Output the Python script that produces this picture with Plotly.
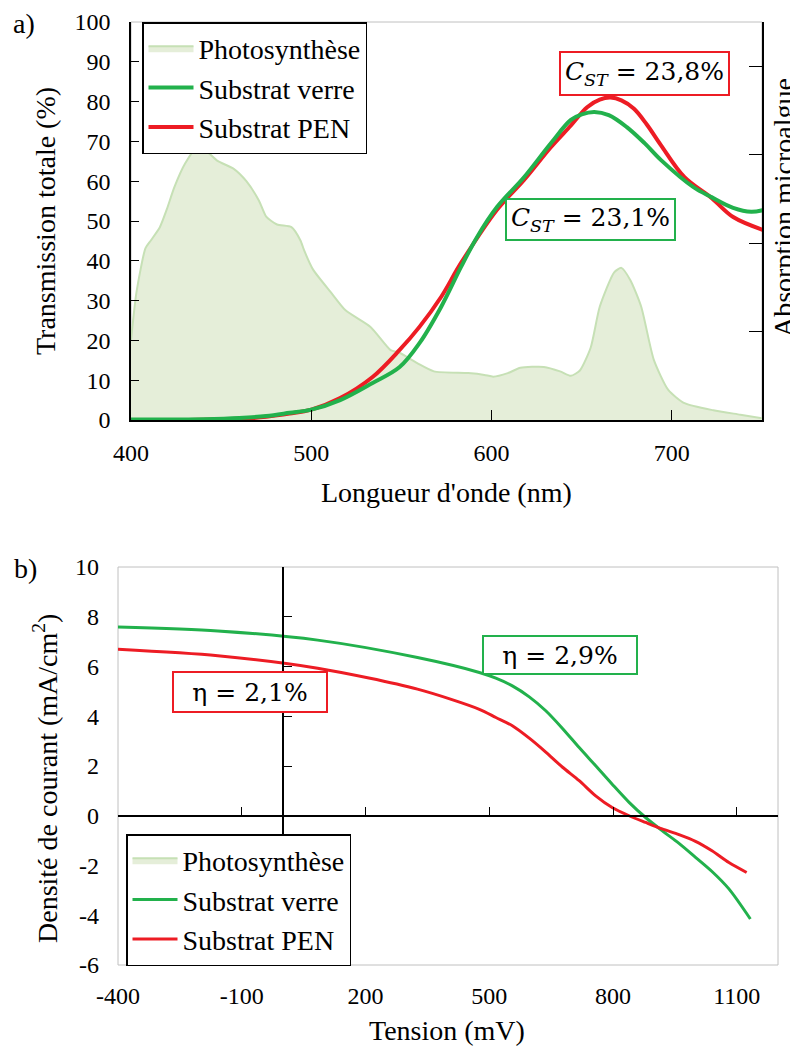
import plotly.graph_objects as go

# photosynthesis action spectrum (absorption, arbitrary units)
wl_photo = [400, 403, 408, 411, 416, 420, 424, 430, 437, 443, 448, 457, 464, 471, 475, 481,
            489, 494, 496, 501, 511, 519, 533, 544, 549, 559, 568, 587, 596, 601, 609, 616,
            629, 638, 644, 649, 655, 660, 668, 672, 677, 683, 690, 698, 707, 723, 738, 750]
abs_photo = [0.090, 0.144, 0.194, 0.203, 0.218, 0.239, 0.263, 0.290, 0.309, 0.302, 0.293, 0.284,
             0.270, 0.248, 0.230, 0.221, 0.218, 0.203, 0.192, 0.170, 0.144, 0.124, 0.105, 0.079,
             0.076, 0.064, 0.055, 0.053, 0.051, 0.049, 0.053, 0.059, 0.060, 0.055, 0.050, 0.056,
             0.082, 0.128, 0.167, 0.172, 0.158, 0.128, 0.068, 0.034, 0.019, 0.011, 0.006, 0.002]

# total transmission (%)
wl_verre = [400, 420, 440, 460, 475, 488, 500, 516, 534, 549, 560, 572, 583, 592, 603, 618,
            633, 644, 650, 657, 665, 675, 685, 694, 712, 722, 734, 744, 751]
t_verre = [0.1, 0.1, 0.2, 0.5, 1.0, 1.8, 2.6, 5.0, 9.3, 13.3, 19.3, 28.4, 38.4, 46.0, 53.5, 61.0,
           69.6, 75.4, 76.8, 77.4, 76.6, 73.6, 69.5, 65.3, 58.5, 56.0, 53.3, 52.3, 52.8]
wl_pen = [400, 440, 460, 475, 488, 500, 516, 534, 549, 560, 572, 583, 603, 618, 633, 644,
          653, 660, 666, 672, 679, 686, 694, 707, 722, 734, 751]
t_pen = [0.0, 0.05, 0.3, 0.8, 1.6, 2.6, 5.5, 10.8, 17.6, 23.4, 30.9, 39.4, 52.8, 60.3, 68.6, 74.0,
         78.6, 80.5, 81.0, 80.3, 78.2, 74.3, 69.0, 61.0, 55.8, 51.0, 47.7]

# J-V curves (mV, mA/cm2)
v_verre = [-400, -158, 84, 326, 476, 516, 556, 597, 637, 677, 718, 758, 798, 839, 879, 919,
           960, 1000, 1040, 1081, 1133]
j_verre = [7.59, 7.43, 7.06, 6.36, 5.76, 5.53, 5.22, 4.78, 4.22, 3.52, 2.74, 2.01, 1.27, 0.54,
           -0.07, -0.60, -1.11, -1.67, -2.24, -2.94, -4.15]
v_pen = [-400, -158, 84, 326, 476, 516, 556, 597, 637, 677, 718, 758, 798, 839, 879, 919,
         960, 1000, 1040, 1081, 1124]
j_pen = [6.69, 6.43, 5.93, 5.09, 4.28, 3.95, 3.62, 3.12, 2.56, 1.96, 1.41, 0.80, 0.33, 0.0,
         -0.27, -0.53, -0.76, -1.03, -1.41, -1.88, -2.28]

# tick labels of panel b (plain hyphen minus, as in the original)
v_ticks = [-400, -100, 200, 500, 800, 1100]
v_ticklabels = ['-400', '-100', '200', '500', '800', '1100']
j_ticks = [-6, -4, -2, 0, 2, 4, 6, 8, 10]
j_ticklabels = ['-6', '-4', '-2', '0', '2', '4', '6', '8', '10']

GREEN = '#22b14c'
RED = '#ed1c24'
FILL = '#e5eed9'
FILL_LINE = '#c6e0b5'
FONT = 'Liberation Serif'
BOXFONT = 'DejaVu Serif'

# the page body adds an 8 px margin, so the figure is 8 px smaller and laid out in page pixels
W, H, OFF = 790, 1045, 8


def fx(px):
    return (px - OFF) / W


def fy(py):
    return 1 - (py - OFF) / H


fig = go.Figure()

# ---- a) transmission (photosynthesis on the main axis, so curves on the overlay stay on top)
fig.add_trace(go.Scatter(x=wl_photo, y=abs_photo, name='Photosynthèse', mode='lines', fill='tozeroy',
                         fillcolor=FILL, line=dict(color=FILL_LINE, width=2, shape='spline', smoothing=0.6),
                         xaxis='x', yaxis='y', legend='legend', legendrank=1))
fig.add_trace(go.Scatter(x=wl_pen, y=t_pen, name='Substrat PEN', mode='lines',
                         line=dict(color=RED, width=4, shape='spline'),
                         xaxis='x', yaxis='y2', legend='legend', legendrank=3))
fig.add_trace(go.Scatter(x=wl_verre, y=t_verre, name='Substrat verre', mode='lines',
                         line=dict(color=GREEN, width=4, shape='spline'),
                         xaxis='x', yaxis='y2', legend='legend', legendrank=2))

# ---- b) J-V
fig.add_trace(go.Scatter(x=[None], y=[None], name='Photosynthèse', mode='lines', fill='tozeroy',
                         fillcolor=FILL, line=dict(color=FILL_LINE, width=2),
                         xaxis='x2', yaxis='y3', legend='legend2'))
fig.add_trace(go.Scatter(x=v_verre, y=j_verre, name='Substrat verre', mode='lines',
                         line=dict(color=GREEN, width=3, shape='spline', smoothing=0.8),
                         xaxis='x3', yaxis='y4', legend='legend2'))
fig.add_trace(go.Scatter(x=v_pen, y=j_pen, name='Substrat PEN', mode='lines',
                         line=dict(color=RED, width=3, shape='spline', smoothing=0.8),
                         xaxis='x3', yaxis='y4', legend='legend2'))

tickfont = dict(family=FONT, size=24, color='black')
top_x = [fx(131), fx(762)]
top_y = [fy(420), fy(22)]
bot_x = [fx(118), fx(778)]
bot_y = [fy(965), fy(567)]

legend_style = dict(xanchor='left', yanchor='top', bgcolor='white', bordercolor='black',
                    borderwidth=1.5, font=dict(family=FONT, size=28, color='black'),
                    itemwidth=45, tracegroupgap=0)

fig.update_layout(
    width=W, height=H,
    margin=dict(l=0, r=0, t=0, b=0, autoexpand=False),
    paper_bgcolor='white', plot_bgcolor='white',
    font=dict(family=FONT, size=24, color='black'),
    xaxis=dict(domain=top_x, anchor='y', range=[400, 750], tick0=400, dtick=100,
               ticks='inside', ticklen=10, tickcolor='black', showline=True, linecolor='black',
               linewidth=1.5, showgrid=False, zeroline=False, tickfont=tickfont,
               ticklabelstandoff=10, automargin=False),
    yaxis=dict(domain=top_y, anchor='x', side='right', range=[0, 0.45], dtick=0.1,
               ticks='inside', ticklen=13, tickcolor='black', showticklabels=False,
               showline=True, linecolor='black', linewidth=1.5, showgrid=False, zeroline=False,
               automargin=False),
    yaxis2=dict(overlaying='y', anchor='x', side='left', range=[0, 100], dtick=10,
                ticks='inside', ticklen=8, tickcolor='black', showline=True, linecolor='black',
                linewidth=1.5, showgrid=False, zeroline=False, tickfont=tickfont,
                ticklabelstandoff=14, automargin=False),
    xaxis2=dict(domain=bot_x, anchor='y3', range=[-400, 1200], tickvals=v_ticks, ticktext=v_ticklabels,
                ticks='', showline=False, showgrid=False, zeroline=False, tickfont=tickfont,
                ticklabelstandoff=14, automargin=False),
    yaxis3=dict(domain=bot_y, anchor='x2', range=[-6, 10], tickvals=j_ticks, ticktext=j_ticklabels,
                ticks='', showline=False, showgrid=False, zeroline=False, tickfont=tickfont,
                ticklabelstandoff=18, automargin=False),
    xaxis3=dict(overlaying='x2', anchor='free', position=bot_y[0] + 0.375 * (bot_y[1] - bot_y[0]),
                range=[-400, 1200], tickvals=v_ticks, ticks='inside', ticklen=8,
                tickcolor='black', showticklabels=False, showline=True, linecolor='black',
                linewidth=1.5, showgrid=False, zeroline=False, automargin=False),
    yaxis4=dict(overlaying='y3', anchor='free', position=bot_x[0] + 0.25 * (bot_x[1] - bot_x[0]),
                range=[-6, 10], tickvals=j_ticks, ticks='inside', ticklen=8, tickcolor='black',
                showticklabels=False, showline=True, linecolor='black', linewidth=1.5,
                showgrid=False, zeroline=False, automargin=False),
    legend=dict(x=fx(142), y=fy(22), **legend_style),
    legend2=dict(x=fx(126), y=fy(834), **legend_style),
    showlegend=True,
)

# plot-area frames (light grey)
fig.add_shape(type='rect', xref='x domain', yref='y domain', x0=0, x1=1, y0=0, y1=1,
              line=dict(color='#c0c0c0', width=1), layer='below')
fig.add_shape(type='rect', xref='x2 domain', yref='y3 domain', x0=0, x1=1, y0=0, y1=1,
              line=dict(color='#c0c0c0', width=1), layer='below')

# value boxes
box = dict(bgcolor='white', borderwidth=2, borderpad=2, showarrow=False,
           font=dict(family=BOXFONT, size=25, color='black'))
fig.add_annotation(x=685, y=87, xref='x', yref='y2', text='<i>C</i><sub><i>ST</i></sub> = 23,8%',
                   bordercolor=RED, width=163, height=37, **box)
fig.add_annotation(x=655, y=50.5, xref='x', yref='y2', text='<i>C</i><sub><i>ST</i></sub> = 23,1%',
                   bordercolor=GREEN, width=163, height=35, **box)
fig.add_annotation(x=672, y=6.47, xref='x2', yref='y3', text='η = 2,9%', bordercolor=GREEN,
                   width=148, height=32, **box)
fig.add_annotation(x=-80, y=4.96, xref='x2', yref='y3', text='η = 2,1%', bordercolor=RED,
                   width=148, height=34, **box)

# axis titles and panel labels
title_font = dict(family=FONT, size=28, color='black')
labels = [
    ('Transmission totale (%)', 45, 221, -90),
    ('Absorption microalgue', 783, 208, -90),
    ("Longueur d'onde (nm)", 447, 492, 0),
    ('Densité de courant (mA/cm<sup>2</sup>)', 45, 779, -90),
    ('Tension (mV)', 447, 1030, 0),
    ('a)', 24, 24, 0),
    ('b)', 25, 568, 0),
]
for txt, px, py, ang in labels:
    fig.add_annotation(x=fx(px), y=fy(py), xref='paper', yref='paper', text=txt,
                       textangle=ang, showarrow=False, font=title_font,
                       xanchor='center', yanchor='middle')

fig.write_html("out.html")
